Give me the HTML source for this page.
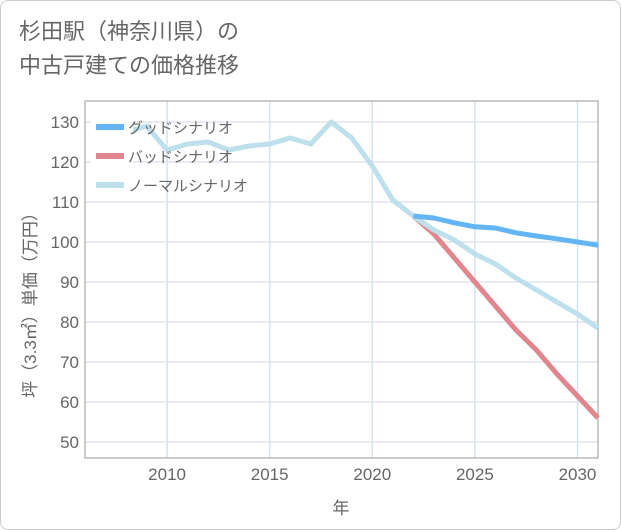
<!DOCTYPE html>
<html><head><meta charset="utf-8">
<style>
body{margin:0;background:#fff;}
#wrap{position:relative;width:619px;height:528px;border:1px solid #ccc;border-radius:8px;background:#fff;overflow:hidden;font-family:"Liberation Sans","Noto Sans CJK JP",sans-serif;}
#title{position:absolute;left:18px;top:14px;font-size:22px;line-height:34px;color:#666;}
svg{position:absolute;left:0;top:0;}
text{font-family:"Liberation Sans","Noto Sans CJK JP",sans-serif;}
</style></head><body>
<div id="wrap">
<div id="title">杉田駅（神奈川県）の<br>中古戸建ての価格推移</div>
<svg id="chart" width="621" height="530"></svg>
</div>
<script>
const years=[2008,2009,2010,2011,2012,2013,2014,2015,2016,2017,2018,2019,2020,2021,2022,2023,2024,2025,2026,2027,2028,2029,2030,2031];
const normal=[127.5,129,123,124.5,125,123,124,124.5,126,124.5,130,126,119,110.5,106.5,103,100.5,97,94.5,91,88,85,82,78.5];
const goodYears=[2022,2023,2024,2025,2026,2027,2028,2029,2030,2031];
const good=[106.5,106,104.8,103.8,103.5,102.3,101.5,100.8,100,99.2];
const badYears=[2022,2023,2024,2025,2026,2027,2028,2029,2030,2031];
const bad=[106.5,102,96,90,84,78,73,67,61.5,56];
const xTicks=[2010,2015,2020,2025,2030];
const yTicks=[50,60,70,80,90,100,110,120,130];
const legendLabels=["グッドシナリオ","バッドシナリオ","ノーマルシナリオ"];
const legendColors=["#64b5f6","#e0868e","#bde0ec"];

const L=84,R=597,T=100,B=457;
const x=v=>L+(v-2006)/(2031-2006)*(R-L);
const y=v=>441-(v-50)*4;
const svg=document.getElementById('chart');
const NS='http://www.w3.org/2000/svg';
function mk(tag,attrs,parent){const e=document.createElementNS(NS,tag);for(const k in attrs)e.setAttribute(k,attrs[k]);(parent||svg).appendChild(e);return e;}

const grid=mk('g',{});


yTicks.forEach(t=>{
  const l=mk('line',{x1:L,x2:R,y1:y(t),y2:y(t),stroke:'#dde6ee','stroke-width':1.5},grid);
  
  
  const tx=mk('text',{x:L-6,y:y(t)+6,'text-anchor':'end','font-size':17,fill:'#666'});
  tx.textContent=t;
  
  
});
xTicks.forEach(t=>{
  const l=mk('line',{x1:x(t),x2:x(t),y1:T,y2:B,stroke:'#d5e3ee','stroke-width':1.5},grid);
  
  
  const tx=mk('text',{x:x(t),y:B+22,'text-anchor':'middle','font-size':17,fill:'#666'});
  tx.textContent=t;
  
  
});
const frame=mk('rect',{x:L,y:T,width:R-L,height:B-T,fill:'none',stroke:'#999','stroke-width':1});



function series(xs,vs,color,name){
  const p=mk('polyline',{points:xs.map((v,i)=>x(v)+','+y(vs[i])).join(' '),fill:'none',stroke:color,'stroke-width':5,'stroke-linejoin':'round'});
  
  
}
series(badYears,bad,legendColors[1],'bad-scenario-line');
series(years,normal,legendColors[2],'normal-scenario-line');
series(goodYears,good,legendColors[0],'good-scenario-line');

const lg=mk('g',{});


mk('rect',{x:90,y:110,width:42,height:88,fill:'#fff'},lg);
legendLabels.forEach((s,i)=>{
  const yy=126+i*29;
  const l=mk('line',{x1:95,x2:123,y1:yy,y2:yy,stroke:legendColors[i],'stroke-width':6},lg);
  
  
  const t=mk('text',{x:127,y:yy+6,'font-size':15,fill:'#666'},lg);
  t.textContent=s;
  
  
});
const yt=mk('text',{transform:'translate(35,300) rotate(-90)','text-anchor':'middle','font-size':17,fill:'#666'});
yt.textContent='坪（3.3㎡）単価（万円）';


const xt=mk('text',{x:340,y:513,'text-anchor':'middle','font-size':17,fill:'#666'});
xt.textContent='年';


</script>
</body></html>
